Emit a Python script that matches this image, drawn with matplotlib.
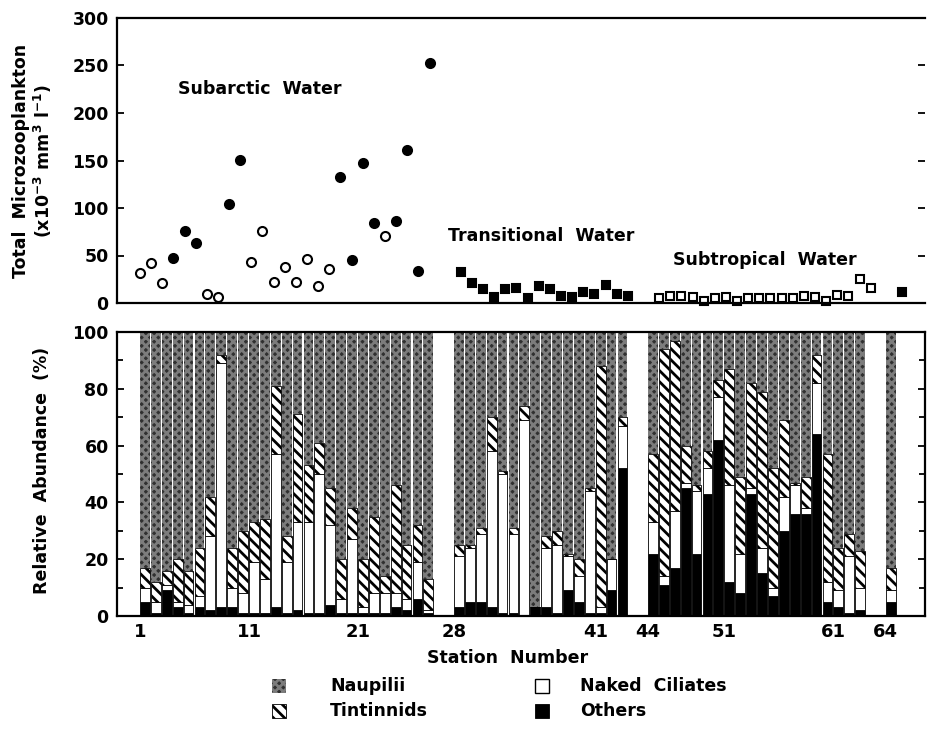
import numpy as np
import matplotlib.pyplot as plt
from matplotlib.patches import Rectangle

plt.rcParams['font.family'] = ['DejaVu Sans']
plt.rcParams['font.weight'] = 'bold'
plt.rcParams['hatch.linewidth'] = 2.0
plt.rcParams['mathtext.fontset'] = 'dejavusans'
plt.rcParams['mathtext.default'] = 'bf'

# ---- data ----
stations = np.arange(1, 65)

# total microzooplankton (x10^-3 mm3 l-1)
total = [32, 42, 21, 47, 76, 63, 10, 6, 104, 151, 43, 76, 22, 38, 22, 46, 18, 36,
         133, 45, 147, 84, 71, 86, 161, 34, 253,
         33, 21, 15, 6, 15, 16, 5, 18, 15, 7, 6, 12, 10, 19, 10, 7,
         5, 7, 7, 6, 2, 5, 6, 2, 5, 5, 5, 5, 5, 7, 6, 2, 8, 7, 25, 16,
         12]
# 1 = filled symbol, 0 = open symbol
filled = [0, 0, 0, 1, 1, 1, 0, 0, 1, 1, 0, 0, 0, 0, 0, 0, 0, 0,
          1, 1, 1, 1, 0, 1, 1, 1, 1] + [1] * 16 + [0] * 20 + [1]
# circle for subarctic stations, square elsewhere
shape = ['o'] * 27 + ['s'] * 37

# relative abundance (%), per group
others = [5, 1, 9, 3, 1, 3, 2, 3, 3, 1, 1, 1, 3, 1, 2, 1, 1, 4, 1, 1, 1, 1, 1, 3, 2, 6, 1,
          3, 5, 5, 3, 1, 1, 0, 3, 3, 1, 9, 5, 1, 1, 9, 52,
          22, 11, 17, 45, 22, 43, 62, 12, 8, 43, 15, 7, 30, 36, 36, 64, 5, 3, 1, 2,
          5]
naked = [5, 4, 2, 2, 3, 4, 26, 86, 7, 7, 18, 12, 54, 18, 31, 32, 49, 28, 5, 26, 2, 7, 7, 5, 4, 13, 1,
         18, 19, 24, 55, 49, 28, 69, 0, 21, 24, 12, 9, 43, 2, 11, 15,
         11, 3, 20, 2, 22, 9, 15, 34, 14, 2, 9, 3, 12, 10, 2, 18, 7, 6, 20, 8,
         4]
tintinnids = [7, 7, 5, 15, 12, 17, 14, 3, 14, 22, 14, 21, 24, 9, 38, 20, 11, 13, 14, 11, 17, 27, 6, 38, 19, 13, 11,
              4, 1, 2, 12, 1, 2, 5, 0, 4, 5, 1, 6, 1, 85, 0, 3,
              24, 80, 60, 13, 2, 6, 6, 41, 27, 37, 55, 42, 27, 1, 11, 10, 45, 15, 8, 13,
              8]
naupilii = [100 - a - b - c for a, b, c in zip(others, naked, tintinnids)]

tick_stations = [1, 11, 21, 28, 41, 44, 51, 61, 64]
gap_after = [27, 43, 63]
gap = 1.8

pos = np.array([s - 1 + gap * sum(s > g for g in gap_after) for s in stations], dtype=float)
pos_of = dict(zip(stations, pos))

NAUP_FACE = '#303030'
NAUP_HATCH = '#7c7c7c'
FS = 12.5

fig = plt.figure(figsize=(9.27, 7.41), dpi=100)
ax1 = fig.add_axes([117 / 927, 1 - 303 / 741, 808 / 927, 285 / 741])
ax2 = fig.add_axes([117 / 927, 1 - 616 / 741, 808 / 927, 284 / 741])

# ---- top panel: total microzooplankton ----
total = np.array(total)
filled = np.array(filled)
shape = np.array(shape)
for mk in ['o', 's']:
    for f in [0, 1]:
        m = (shape == mk) & (filled == f)
        ax1.plot(pos[m], total[m], linestyle='none', marker=mk, markersize=6.5 if mk == 'o' else 6,
                 markerfacecolor='black' if f else 'white', markeredgecolor='black',
                 markeredgewidth=1.5, clip_on=False)

ax1.set_xlim(-2.06, 70.47)
ax1.set_ylim(0, 300)
ax1.set_yticks(np.arange(0, 301, 50))
ax1.set_xticks([])
ax1.spines['right'].set_visible(False)
for s in ['left', 'bottom', 'top']:
    ax1.spines[s].set_linewidth(1.6)
ax1.tick_params(axis='y', direction='in', length=5, width=1.3, labelsize=FS, pad=6, right=True)

ax1.text(0.0755, 0.751, 'Subarctic  Water', transform=ax1.transAxes, fontsize=FS,
         va='center', ha='left')
ax1.text(0.41, 0.235, 'Transitional  Water', transform=ax1.transAxes, fontsize=FS,
         va='center', ha='left')
ax1.text(0.688, 0.151, 'Subtropical  Water', transform=ax1.transAxes, fontsize=FS,
         va='center', ha='left')

# ---- bottom panel: relative abundance ----
w = 0.9
b1 = np.array(others)
b2 = b1 + np.array(naked)
b3 = b2 + np.array(tintinnids)
ax2.bar(pos, others, width=w, align='edge', color='black', edgecolor='black', linewidth=0.6)
ax2.bar(pos, naked, bottom=b1, width=w, align='edge', color='white', edgecolor='black', linewidth=0.6)
ax2.bar(pos, tintinnids, bottom=b2, width=w, align='edge', color='white', edgecolor='black',
        hatch='\\\\\\', linewidth=0.6)
ax2.bar(pos, naupilii, bottom=b3, width=w, align='edge', color=NAUP_FACE, edgecolor=NAUP_HATCH,
        hatch='xxxx', linewidth=0)

ax2.set_xlim(-2.11, 72.0)
ax2.set_ylim(0, 100)
ax2.set_yticks(np.arange(0, 101, 20))
ax2.set_yticks(np.arange(10, 100, 20), minor=True)
ax2.set_xticks([pos_of[s] for s in tick_stations])
ax2.set_xticklabels([str(s) for s in tick_stations])
for s in ax2.spines.values():
    s.set_linewidth(1.6)
ax2.tick_params(axis='y', which='both', direction='in', width=1.3, labelsize=FS, pad=6, right=True)
ax2.tick_params(axis='y', which='major', length=5)
ax2.tick_params(axis='y', which='minor', length=4)
ax2.tick_params(axis='x', length=0, labelsize=13, pad=5)

# ---- labels ----
fig.text(33 / 927, 1 - 161 / 741, 'Total  Microzooplankton\n(x10$^{-3}$ mm$^{3}$ l$^{-1}$)',
         rotation=90, ha='center', va='center', multialignment='center', fontsize=FS,
         linespacing=1.1)
fig.text(42 / 927, 1 - 470 / 741, 'Relative  Abundance  (%)', rotation=90, ha='center',
         va='center', fontsize=FS)
fig.text(508 / 927, 1 - 658 / 741, 'Station  Number', ha='center', va='center', fontsize=FS)

# ---- legend ----
legend_items = [
    ('Naupilii', dict(facecolor=NAUP_FACE, edgecolor=NAUP_HATCH, hatch='xxxx', linewidth=0), 272, 330, 686),
    ('Tintinnids', dict(facecolor='white', edgecolor='black', hatch='\\\\\\', linewidth=0.6), 272, 330, 711),
    ('Naked  Ciliates', dict(facecolor='white', edgecolor='black', linewidth=1.0), 535, 580, 686),
    ('Others', dict(facecolor='black', edgecolor='black', linewidth=0.6), 535, 580, 711),
]
for label, style, xp, xt, y in legend_items:
    fig.add_artist(Rectangle((xp / 927, 1 - (y + 7) / 741), 14 / 927, 14 / 741,
                             transform=fig.transFigure, **style))
    fig.text(xt / 927, 1 - y / 741, label, ha='left', va='center', fontsize=FS)

fig.savefig('out.png', dpi=100)
